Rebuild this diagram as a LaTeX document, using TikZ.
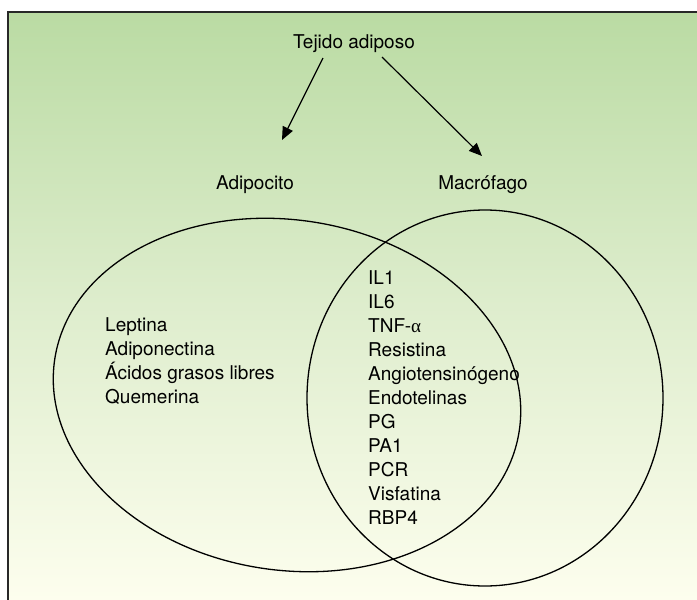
\documentclass[tikz,border=0pt]{standalone}
\usepackage{fontspec}
\setmainfont{TeX Gyre Heros}
\newfontfamily\grkserif{Liberation Serif}
\usetikzlibrary{arrows.meta,shapes.geometric}
\definecolor{bgtop}{RGB}{186,219,163}
\definecolor{bgmid}{RGB}{222,237,205}
\definecolor{bgbot}{RGB}{253,254,238}
\definecolor{framec}{RGB}{40,40,40}
\tikzset{
  lbl/.style={inner sep=0pt, font=\fontsize{19}{24}\selectfont, text=black},
  venn/.style={draw=black, line width=1.3pt, ellipse, inner sep=0pt},
  arr/.style={draw=black, line width=1.2pt, -{Triangle[length=13pt,width=11pt]}}
}
\begin{document}
\begin{tikzpicture}[x=1pt,y=-1pt]
\useasboundingbox (0,0) rectangle (697,600);
% background
\shade[top color=bgtop, bottom color=bgbot, middle color=bgmid] (8,12) rectangle (697,600);
\draw[framec, line width=2pt] (8,600) -- (8,12) -- (697,12);
% titles
\node[lbl, anchor=base] (title) at (354,48) {Tejido adiposo};
\node[lbl, anchor=base] (adip) at (255,189) {Adipocito};
\node[lbl, anchor=base] (macro) at (483,189) {Macrófago};
% arrows
\coordinate (s1) at (323,58);
\coordinate (e1) at (282,140);
\coordinate (s2) at (382,57);
\coordinate (e2) at (482,156);
\draw[arr] (s1) -- (e1);
\draw[arr] (s2) -- (e2);
% ellipses
\node[venn, minimum width=470pt, minimum height=350pt, rotate=-9] (left) at (287,395) {};
\node[venn, minimum width=356pt, minimum height=376pt] (right) at (485,398) {};
% left list
\foreach \t [count=\i] in {Leptina, Adiponectina, Ácidos grasos libres, Quemerina}
  \node[lbl, anchor=base west] (l\i) at (105, 331+24*\i-24) {\t};
% middle list
\foreach \t [count=\i] in {IL1, IL6, TNF-{\grkserif α}, Resistina, Angiotensinógeno, Endotelinas, PG, PA1, PCR, Visfatina, RBP4}
  \node[lbl, anchor=base west] (m\i) at (368, 284+24*\i-24) {\t};
\end{tikzpicture}
\end{document}
